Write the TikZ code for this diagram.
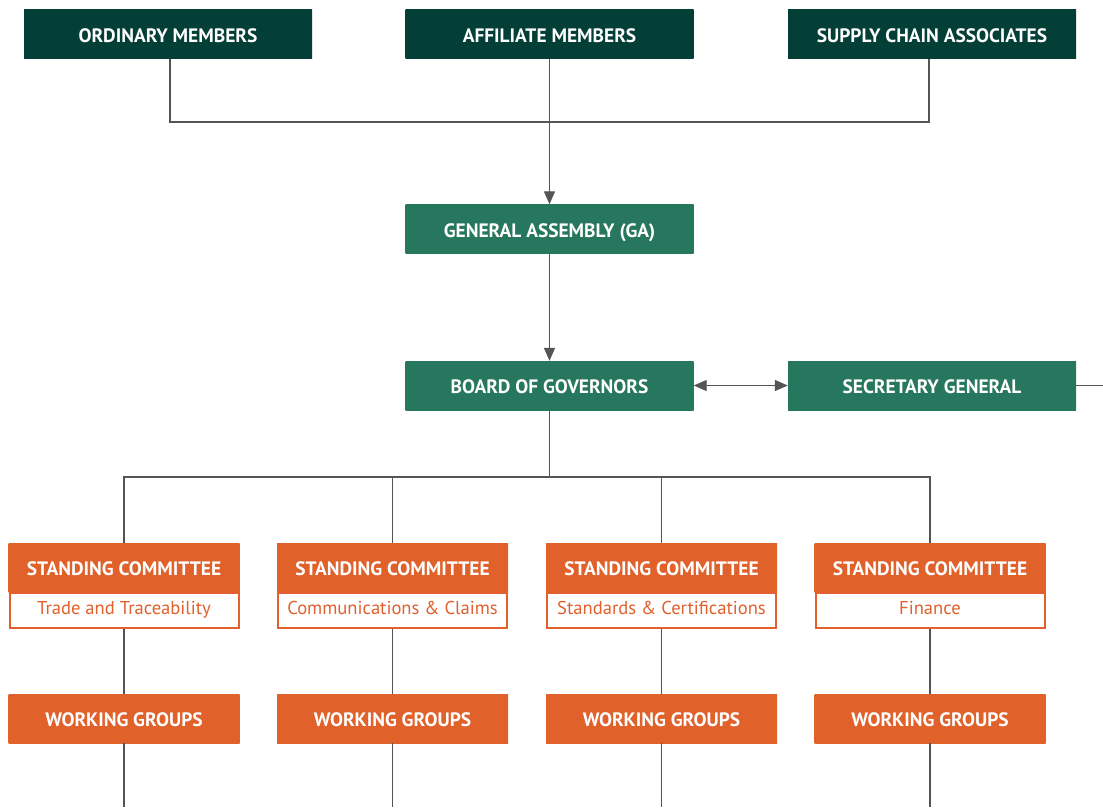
\documentclass[tikz,border=0pt]{standalone}
\usepackage{fontspec}
\setmainfont{PT Sans}
\usetikzlibrary{arrows.meta}
\definecolor{tealdark}{HTML}{033E37}
\definecolor{teallight}{HTML}{0B5E56}
\definecolor{gdark}{HTML}{27765E}
\definecolor{glight}{HTML}{1A7F66}
\definecolor{odark}{HTML}{E0612A}
\definecolor{olight}{HTML}{EC8638}
\definecolor{otext}{HTML}{E2602C}
\definecolor{linec}{HTML}{555557}
\tikzset{
  box/.style={minimum width=288pt,minimum height=49pt,inner sep=0pt,
    text height=16.5pt,text depth=0pt,
    font=\fontsize{19.4}{22}\selectfont\bfseries,text=white},
  topbox/.style={box,left color=tealdark,middle color=teallight,right color=tealdark},
  greenbox/.style={box,left color=gdark,middle color=glight,right color=gdark},
  orangebox/.style={box,minimum width=231pt,left color=odark,middle color=olight,right color=odark},
  subbox/.style={minimum width=229pt,minimum height=35pt,inner sep=0pt,draw=otext,line width=2pt,fill=white,
    text height=7pt,text depth=0pt,
    text=otext,font=\fontsize{18.6}{21}\selectfont},
  conn/.style={draw=linec,line width=1.3pt},
  arr/.style={conn,-{Triangle[length=13pt,width=11pt]}},
  darr/.style={conn,{Triangle[length=13pt,width=11pt]}-{Triangle[length=13pt,width=11pt]}},
}
\begin{document}
\begin{tikzpicture}[x=1pt,y=-1pt]
\useasboundingbox (0,0) rectangle (1103,807);
\fill[white] (0,0) rectangle (1103,807);
% top row
\node[topbox] (om) at (168,34) {ORDINARY MEMBERS};
\node[topbox] (am) at (549.5,34) {AFFILIATE MEMBERS};
\node[topbox] (sca) at (932,34) {SUPPLY CHAIN ASSOCIATES};
\coordinate (jn) at (549.5,122);
\draw[conn] (om.south -| 170,0) |- (jn);
\draw[conn] (sca.south -| 929,0) |- (jn);
\node[greenbox] (ga) at (549.5,229) {GENERAL ASSEMBLY (GA)};
\draw[arr] (am.south) -- (ga.north);
\node[greenbox] (bog) at (549.5,385.5) {BOARD OF GOVERNORS};
\node[greenbox] (sg) at (932,385.5) {SECRETARY GENERAL};
\draw[arr] (ga.south) -- (bog.north);
\draw[darr] (bog.east) -- (sg.west);
\coordinate (edge) at (1103,385.5);
\draw[conn] (sg.east) -- (edge);
\coordinate (bus) at (549.5,477);
\draw[conn] (bog.south) -- (bus);
% committees
\foreach \i/\x/\t in {1/124/Trade and Traceability,2/392.5/Communications \& Claims,3/661.5/Standards \& Certifications,4/930/Finance}{
  \node[orangebox] (sc\i) at (\x,567.5) {STANDING COMMITTEE};
  \node[subbox,anchor=north] (st\i) at ([yshift=0pt]sc\i.south) {\t};
  \node[orangebox] (wg\i) at (\x,718.5) {WORKING GROUPS};
  \coordinate (b\i) at (\x,807);
  \draw[conn] (bus) -| (sc\i.north);
  \draw[conn] (st\i.south) -- (wg\i.north);
  \draw[conn] (wg\i.south) -- (b\i);
}
\end{tikzpicture}
\end{document}
